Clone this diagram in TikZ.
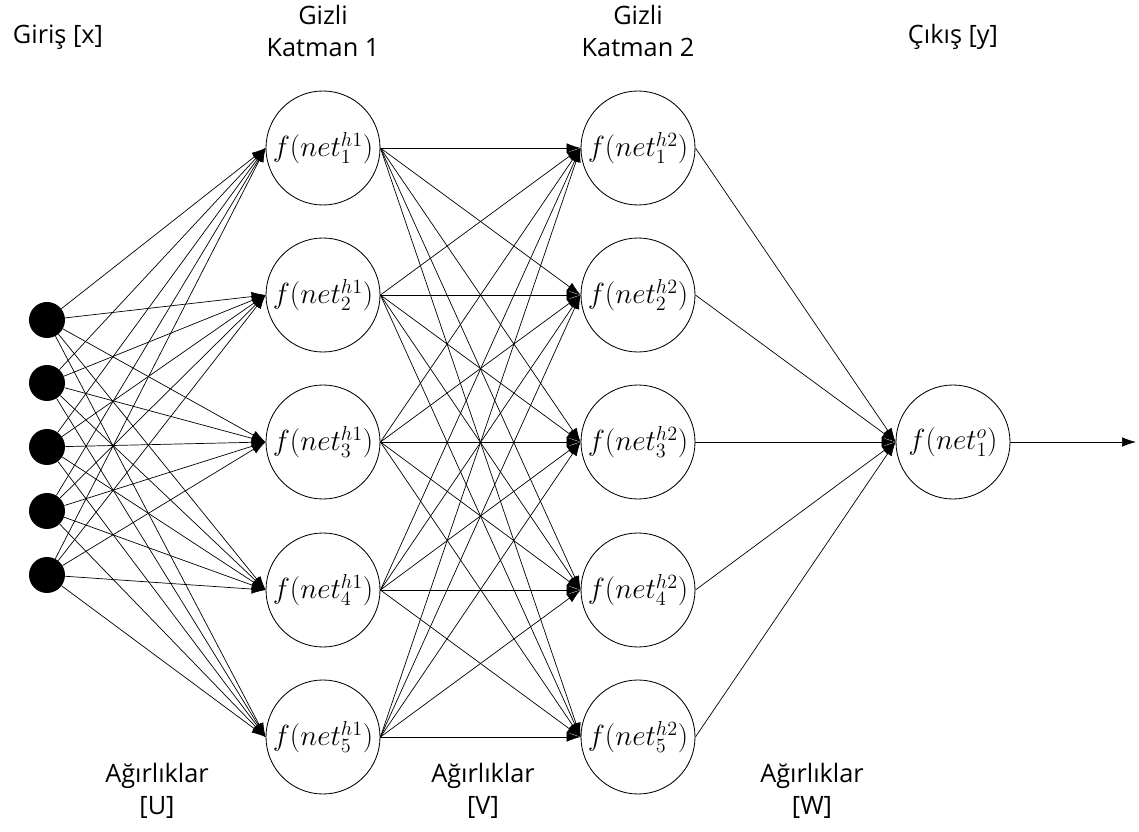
\documentclass[tikz,border=0pt]{standalone}
\usepackage{fontspec}
\setmainfont{Open Sans}
\usetikzlibrary{arrows.meta}
\tikzset{
  inputdot/.style={circle, fill=black, minimum size=9mm, inner sep=0pt},
  neuron/.style={circle, draw, line width=0.6pt, minimum size=28.5mm, inner sep=0pt,
    font=\fontsize{20}{24}\selectfont},
  weight/.style={line width=0.5pt, -{Latex[length=3.5mm,width=2.4mm]}},
  heading/.style={align=center, font=\fontsize{18}{22.7}\selectfont},
}
\begin{document}
\begin{tikzpicture}[x=0.25mm, y=-0.25mm]
\useasboundingbox (0,0) rectangle (1139,832);
% input layer
\foreach \i/\yy in {1/320, 2/383, 3/447, 4/511, 5/575}
  \node[inputdot] (x\i) at (47,\yy) {};
% hidden layers
\foreach \i/\yy in {1/148, 2/295, 3/442, 4/590, 5/737} {
  \node[neuron] (ha\i) at (323,\yy) {$f(net^{h1}_{\i})$};
  \node[neuron] (hb\i) at (638,\yy) {$f(net^{h2}_{\i})$};
}
% output
\node[neuron] (out) at (953,442) {$f(net^{o}_{1})$};
\coordinate (yend) at (1136,442);
% weights
\foreach \i in {1,...,5}
  \foreach \j in {1,...,5} {
    \draw[weight] (x\i) -- (ha\j.west);
    \draw[weight] (ha\i.east) -- (hb\j.west);
  }
\foreach \i in {1,...,5}
  \draw[weight] (hb\i.east) -- (out.west);
\draw[weight] (out.east) -- (yend);
% texts
\node[heading] (tx) at (58,37) {Giriş [x]};
\node[heading] (th1) at (323,31) {Gizli\\Katman 1};
\node[heading] (th2) at (638,31) {Gizli\\Katman 2};
\node[heading] (ty) at (953,37) {Çıkış [y]};
\node[heading] (wu) at (157,791) {Ağırlıklar\\{[U]}};
\node[heading] (wv) at (483,791) {Ağırlıklar\\{[V]}};
\node[heading] (ww) at (812,791) {Ağırlıklar\\{[W]}};
\end{tikzpicture}
\end{document}
